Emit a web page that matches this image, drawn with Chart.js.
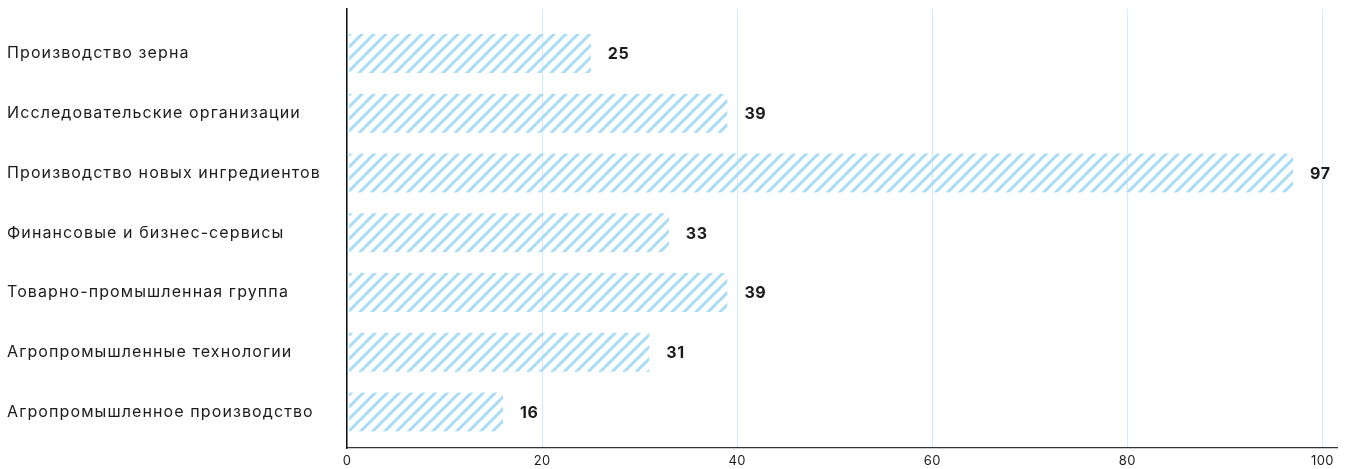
<!DOCTYPE html>
<html>
<head>
<meta charset="utf-8">
<script src="https://cdn.jsdelivr.net/npm/chart.js@4/dist/chart.umd.min.js"></script>
<style>
  html, body { margin: 0; padding: 0; background: #ffffff; }
  #wrap { width: 1349px; height: 469px; position: relative; }
</style>
</head>
<body>
<div id="wrap"><canvas id="chart"></canvas></div>
<script>
const categories = [
  'Производство зерна',
  'Исследовательские организации',
  'Производство новых ингредиентов',
  'Финансовые и бизнес-сервисы',
  'Товарно-промышленная группа',
  'Агропромышленные технологии',
  'Агропромышленное производство'
];
const counts = [25, 39, 97, 33, 39, 31, 16];
const xTicks = [0, 20, 40, 60, 80, 100];

const STRIPE = '#a8dbf6';
const GRID = '#d3ebf9';
const INK = '#1b1b1b';
const FONT = 'Inter, "Noto Sans", sans-serif';

// diagonal hatch fill for the bars
function hatch() {
  const s = 12;
  const c = document.createElement('canvas');
  c.width = s; c.height = s;
  const g = c.getContext('2d');
  g.strokeStyle = STRIPE;
  g.lineWidth = 3;
  g.lineCap = 'square';
  g.beginPath();
  g.moveTo(-2, s + 2); g.lineTo(s + 2, -2);
  g.moveTo(-2, 2); g.lineTo(2, -2);
  g.moveTo(s - 2, s + 2); g.lineTo(s + 2, s - 2);
  g.stroke();
  return g.createPattern(c, 'repeat');
}

// wider tracking for the axis labels
function track(scale, spacing) {
  const base = Object.getPrototypeOf(scale).drawLabels;
  scale.drawLabels = function (area) {
    const ctx = this.ctx;
    ctx.save();
    ctx.letterSpacing = spacing;
    base.call(this, area);
    ctx.restore();
  };
}

const tracking = {
  id: 'tracking',
  afterLayout(chart) {
    track(chart.scales.y, '1.1px');
    track(chart.scales.x, '0.3px');
  }
};

// value printed just past the end of each bar
const valueLabels = {
  id: 'valueLabels',
  afterDatasetsDraw(chart) {
    const ctx = chart.ctx;
    const meta = chart.getDatasetMeta(0);
    ctx.save();
    ctx.font = '700 16px ' + FONT;
    ctx.letterSpacing = '0.5px';
    ctx.fillStyle = INK;
    ctx.textAlign = 'left';
    ctx.textBaseline = 'middle';
    meta.data.forEach((bar, i) => {
      ctx.fillText(String(counts[i]), bar.x + 17, bar.y + 1);
    });
    ctx.restore();
  }
};

new Chart(document.getElementById('chart'), {
  type: 'bar',
  data: {
    datasets: [{
      data: counts.map((v, i) => ({ x: v, y: i })),
      backgroundColor: hatch(),
      borderColor: 'rgba(255,255,255,0)',
      borderWidth: { left: 2, right: 0, top: 0, bottom: 0 },
      borderSkipped: false,
      barThickness: 39
    }]
  },
  options: {
    indexAxis: 'y',
    responsive: true,
    maintainAspectRatio: false,
    animation: false,
    layout: { padding: { left: 7, right: 12, top: 9, bottom: 0 } },
    plugins: { legend: { display: false }, tooltip: { enabled: false } },
    scales: {
      x: {
        type: 'linear',
        min: 0,
        max: 101.5,
        afterBuildTicks(scale) { scale.ticks = xTicks.map(v => ({ value: v })); },
        afterFit(scale) { scale.height = 21; scale.paddingLeft = 0; scale.paddingRight = 0; },
        grid: { color: GRID, lineWidth: 1, drawTicks: false },
        border: { color: '#333333', width: 1.2 },
        ticks: {
          color: INK,
          padding: 5,
          font: { family: FONT, size: 13 },
          maxRotation: 0
        }
      },
      y: {
        type: 'linear',
        offset: false,
        reverse: true,
        min: -0.745,
        max: 6.603,
        afterBuildTicks(scale) { scale.ticks = categories.map((_, i) => ({ value: i })); },
        afterFit(scale) { scale.width = 340; scale.paddingTop = 0; scale.paddingBottom = 0; },
        grid: { display: false, drawTicks: false, offset: false },
        border: { color: '#111111', width: 1.5 },
        ticks: {
          color: INK,
          crossAlign: 'far',
          font: { family: FONT, size: 16 },
          callback: (v) => categories[v] ?? ''
        }
      }
    }
  },
  plugins: [tracking, valueLabels]
});
</script>
</body>
</html>
